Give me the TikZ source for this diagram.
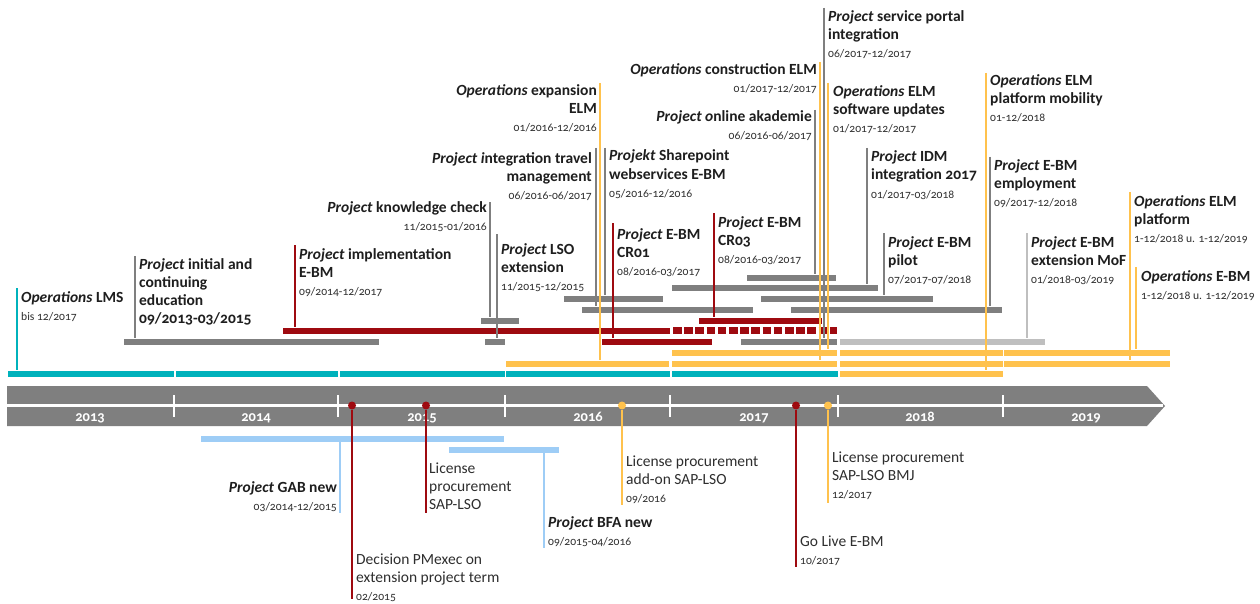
\documentclass[tikz,border=0pt]{standalone}
\usepackage{fontspec}
\setmainfont{Carlito}[Numbers=OldStyle]
\definecolor{ink}{HTML}{1E1E1E}
\definecolor{inksoft}{HTML}{2E2E2E}
\definecolor{barGray}{HTML}{7F7F7F}
\definecolor{barLight}{HTML}{BFBFBF}
\definecolor{barTeal}{HTML}{00B2BC}
\definecolor{barGold}{HTML}{FFC24D}
\definecolor{barRed}{HTML}{9E0A10}
\definecolor{barBlue}{HTML}{9ECDF6}

\newcommand\lblfont{\fontsize{15.5}{18}\selectfont\bfseries}
\newcommand\regfont{\fontsize{15.5}{18}\selectfont\mdseries}
\newcommand\dtxt[1]{{\fontsize{11.6}{18}\selectfont\mdseries\color{inksoft}#1}}
% bar: name, x1, y1, x2, y2, colour
\newcommand\tlbar[6]{\node[barbox, fill=#6, minimum width={(#4-#2)*1pt}, minimum height={(#5-#3)*1pt}] (#1) at (#2,#3) {};}

\tikzset{
  barbox/.style={rectangle, inner sep=0pt, outer sep=0pt, anchor=north west, draw=white, line width=0.4pt},
  % labels are placed by the baseline of their last line
  lbl/.style={font=\lblfont, text=ink, align=left, anchor=base west, inner sep=0pt},
  lblr/.style={lbl, align=right, anchor=base east},
  reg/.style={lbl, font=\regfont, text=inksoft},
  link/.style={line width=1.6pt},
  dot/.style={circle, inner sep=0pt, minimum size=8pt},
  year/.style={font=\fontsize{14.5}{14.5}\selectfont\bfseries, text=white, anchor=base, inner sep=0pt},
}

\begin{document}
\begin{tikzpicture}[x=1pt,y=-1pt]
\useasboundingbox[fill=white] (0,0) rectangle (1260,604);

% ---- time axis ----
\fill[barGray] (7,386) -- (1147,386) -- (1165,406) -- (1147,426) -- (7,426) -- cycle;
\draw[white, line width=2.6pt] (7,405.5) -- (1163,405.5);
\foreach \tx in {174,338,505,670,838,1003}
  \draw[white, line width=2.6pt] (\tx,395) -- (\tx,417);
\node[year] (y2013) at (90,421) {2013};
\node[year] (y2014) at (256,421) {2014};
\node[year] (y2015) at (422,421) {2015};
\node[year] (y2016) at (588,421) {2016};
\node[year] (y2017) at (754,421) {2017};
\node[year] (y2018) at (920,421) {2018};
\node[year] (y2019) at (1086,421) {2019};

% ---- operations rows ----
\tlbar{lmsA}{7}{370}{174}{377}{barTeal}
\tlbar{lmsB}{175}{370}{338}{377}{barTeal}
\tlbar{lmsC}{339}{370}{505}{377}{barTeal}
\tlbar{lmsD}{505}{370}{670}{377}{barTeal}
\tlbar{lmsE}{671}{370}{838}{377}{barTeal}
\tlbar{mobBar}{839}{370}{1003}{377}{barGold}

\tlbar{expBar}{505}{360}{669}{367}{barGold}
\tlbar{conBar}{671}{360}{837}{367}{barGold}
\tlbar{platA}{839}{360}{1003}{367}{barGold}
\tlbar{platB}{1003}{360}{1170}{367}{barGold}

\tlbar{updBar}{671}{349}{837}{356}{barGold}
\tlbar{ebmA}{839}{349}{1003}{356}{barGold}
\tlbar{ebmB}{1003}{349}{1170}{356}{barGold}

% ---- project bars ----
\tlbar{initBar}{123}{338}{379}{345}{barGray}
\tlbar{kcBar}{480}{317}{519}{324}{barGray}
\tlbar{lsoBar}{484}{338}{505}{345}{barGray}
\tlbar{spBar}{563}{295}{663}{302}{barGray}
\tlbar{travelBar}{581}{306}{753}{313}{barGray}
\tlbar{akBar}{746}{274}{836}{281}{barGray}
\tlbar{idmBar}{671}{284}{878}{291}{barGray}
\tlbar{pilotBar}{760}{295}{933}{302}{barGray}
\tlbar{empBar}{790}{306}{1002}{313}{barGray}
\tlbar{portalBar}{740}{338}{837}{345}{barGray}
\tlbar{mofBar}{839}{338}{1045}{345}{barLight}

\tlbar{implBar}{282}{327}{670}{334}{barRed}
\node[barbox, draw=none, minimum width=164pt, minimum height=7pt] (implExt) at (673,327) {};
\draw[barRed, line width=7pt, dash pattern=on 8.6pt off 2.6pt] (implExt.west) -- (implExt.east);
\tlbar{crOneBar}{601}{338}{712}{345}{barRed}
\tlbar{crThreeBar}{698}{317}{822}{324}{barRed}

\tlbar{gabBar}{200}{435}{504}{442}{barBlue}
\tlbar{bfaBar}{448}{446}{559}{453}{barBlue}

% ---- labels above the axis ----
\node[lbl] (lms) at (21,320) {\textit{Operations} LMS\\\dtxt{bis 12/2017}};
\node[lbl] (init) at (139,323) {\textit{Project} initial and\\continuing\\education\\09/2013-03/2015};
\node[lbl] (impl) at (299,295) {\textit{Project} implementation\\E-BM\\\dtxt{09/2014-12/2017}};
\node[lblr] (kc) at (487,230) {\textit{Project} knowledge check\\\dtxt{11/2015-01/2016}};
\node[lbl] (lso) at (501,290) {\textit{Project} LSO\\extension\\\dtxt{11/2015-12/2015}};
\node[lblr] (exp) at (597,132) {\textit{Operations} expansion\\ELM\\\dtxt{01/2016-12/2016}};
\node[lblr] (travel) at (592,200) {\textit{Project i}ntegration travel\\management\\\dtxt{06/2016-06/2017}};
\node[lbl] (sp) at (609,197) {\textit{Projekt} Sharepoint\\webservices E-BM\\\dtxt{05/2016-12/2016}};
\node[lbl] (crOne) at (617,275) {\textit{Project} E-BM\\CR01\\\dtxt{08/2016-03/2017}};
\node[lbl] (crThree) at (718,263) {\textit{Project} E-BM\\CR03\\\dtxt{08/2016-03/2017}};
\node[lblr] (con) at (817,93) {\textit{Operations} construction ELM\\\dtxt{01/2017-12/2017}};
\node[lbl] (portal) at (828,58) {\textit{Project} service portal\\integration\\\dtxt{06/2017-12/2017}};
\node[lbl] (upd) at (833,133) {\textit{Operations} ELM\\software updates\\\dtxt{01/2017-12/2017}};
\node[lblr] (ak) at (812,140) {\textit{Project o}nline akademie\\\dtxt{06/2016-06/2017}};
\node[lbl] (idm) at (871,198) {\textit{Project} IDM\\integration 2017\\\dtxt{01/2017-03/2018}};
\node[lbl] (pilot) at (888,283) {\textit{Project} E-BM\\pilot\\\dtxt{07/2017-07/2018}};
\node[lbl] (mob) at (990,122) {\textit{Operations} ELM\\platform mobility\\\dtxt{01-12/2018}};
\node[lbl] (emp) at (994,207) {\textit{Project} E-BM\\employment\\\dtxt{09/2017-12/2018}};
\node[lbl] (mof) at (1031,283) {\textit{Project} E-BM\\extension MoF\\\dtxt{01/2018-03/2019}};
\node[lbl] (plat) at (1134,242) {\textit{Operations} ELM\\platform\\\dtxt{1-12/2018 u. 1-12/2019}};
\node[lbl] (ebm) at (1141,299) {\textit{Operations} E-BM\\\dtxt{1-12/2018 u. 1-12/2019}};

% ---- labels below the axis ----
\node[lblr] (gab) at (337,510) {\textit{Project} GAB new\\\dtxt{03/2014-12/2015}};
\node[lbl] (bfa) at (548,545) {\textit{Project} BFA new\\\dtxt{09/2015-04/2016}};
\node[reg] (licOne) at (429,509) {License\\procurement\\SAP-LSO};
\node[reg] (dec) at (356,600) {Decision PMexec on\\extension project term\\\dtxt{02/2015}};
\node[reg] (licTwo) at (626,502) {License procurement\\add-on SAP-LSO\\\dtxt{09/2016}};
\node[reg] (live) at (800,564) {Go Live E-BM\\\dtxt{10/2017}};
\node[reg] (licThree) at (832,498) {License procurement\\SAP-LSO BMJ\\\dtxt{12/2017}};

% ---- leader lines from labels to bars ----
\coordinate (lmsTop) at (17,288);
\coordinate (initTop) at (135,256);
\coordinate (implTop) at (295,245);
\coordinate (kcTop) at (490,202);
\coordinate (lsoTop) at (497,234);
\coordinate (expTop) at (600,83);
\coordinate (travelTop) at (596,148);
\coordinate (spTop) at (605,148);
\coordinate (crOneTop) at (613,223);
\coordinate (crThreeTop) at (714,213);
\coordinate (conTop) at (820,62);
\coordinate (portalTop) at (824,8);
\coordinate (updTop) at (828,83);
\coordinate (akTop) at (815,110);
\coordinate (idmTop) at (867,148);
\coordinate (pilotTop) at (884,233);
\coordinate (mobTop) at (986,73);
\coordinate (empTop) at (990,157);
\coordinate (mofTop) at (1027,233);
\coordinate (platTop) at (1130,192);
\coordinate (ebmTop) at (1136,267);

\draw[link, barTeal] (lmsTop) -- (lmsTop |- lmsA.north);
\draw[link, barGray] (initTop) -- (initTop |- initBar.north);
\draw[link, barRed] (implTop) -- (implTop |- implBar.north);
\draw[link, barGray] (kcTop) -- (kcTop |- kcBar.north);
\draw[link, barGray] (lsoTop) -- (lsoTop |- lsoBar.north);
\draw[link, barGold] (expTop) -- (expTop |- expBar.north);
\draw[link, barGray] (travelTop) -- (travelTop |- travelBar.north);
\draw[link, barGray] (spTop) -- (spTop |- spBar.north);
\draw[link, barRed] (crOneTop) -- (crOneTop |- crOneBar.north);
\draw[link, barRed] (crThreeTop) -- (crThreeTop |- crThreeBar.north);
\draw[link, barGold] (conTop) -- (conTop |- conBar.north);
\draw[link, barGray] (portalTop) -- (portalTop |- portalBar.north);
\draw[link, barGold] (updTop) -- (updTop |- updBar.north);
\draw[link, barGray] (akTop) -- (akTop |- akBar.north);
\draw[link, barGray] (idmTop) -- (idmTop |- idmBar.north);
\draw[link, barGray] (pilotTop) -- (pilotTop |- pilotBar.north);
\draw[link, barGold] (mobTop) -- (mobTop |- mobBar.north);
\draw[link, barGray] (empTop) -- (empTop |- empBar.north);
\draw[link, barLight] (mofTop) -- (mofTop |- mofBar.north);
\draw[link, barGold] (platTop) -- (platTop |- platB.north);
\draw[link, barGold] (ebmTop) -- (ebmTop |- ebmB.north);

% ---- leader lines below the axis ----
\coordinate (gabEnd) at (340,513);
\coordinate (bfaEnd) at (544,548);
\draw[link, barBlue] (gabBar.south -| gabEnd) -- (gabEnd);
\draw[link, barBlue] (bfaBar.south -| bfaEnd) -- (bfaEnd);

% ---- milestones on the axis ----
\coordinate (decEnd) at (352,599);
\coordinate (licOneEnd) at (426,513);
\coordinate (licTwoEnd) at (622,505);
\coordinate (liveEnd) at (796,567);
\coordinate (licThreeEnd) at (828,503);
\node[dot, fill=barRed] (msDec) at (352,405.5) {};
\node[dot, fill=barRed] (msLicOne) at (426,405.5) {};
\node[dot, fill=barGold] (msLicTwo) at (622,405.5) {};
\node[dot, fill=barRed] (msLive) at (796,405.5) {};
\node[dot, fill=barGold] (msLicThree) at (828,405.5) {};
\draw[link, barRed] (msDec) -- (decEnd);
\draw[link, barRed] (msLicOne) -- (licOneEnd);
\draw[link, barGold] (msLicTwo) -- (licTwoEnd);
\draw[link, barRed] (msLive) -- (liveEnd);
\draw[link, barGold] (msLicThree) -- (licThreeEnd);
\end{tikzpicture}
\end{document}
